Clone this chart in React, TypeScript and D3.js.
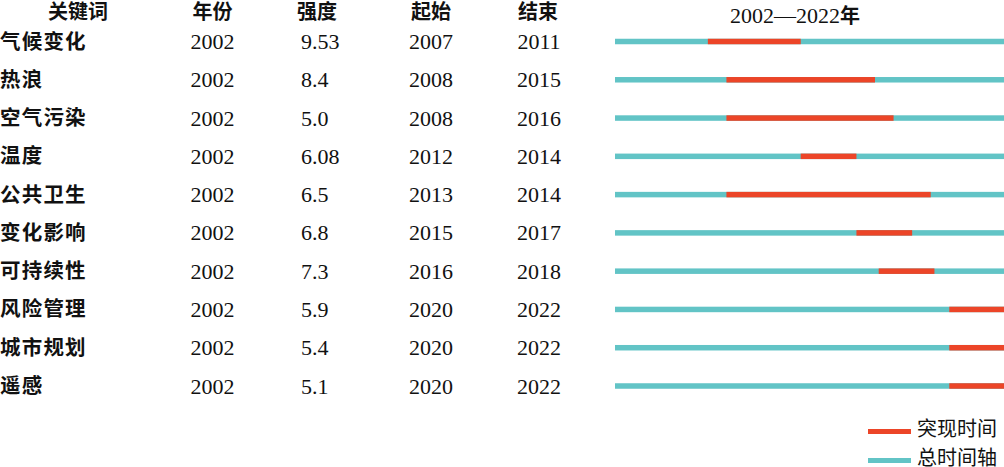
import React from 'react';
import * as d3 from 'd3';

const keywords = ['气候变化', '热浪', '空气污染', '温度', '公共卫生', '变化影响', '可持续性', '风险管理', '城市规划', '遥感'];
const yearLabels = ['2002', '2002', '2002', '2002', '2002', '2002', '2002', '2002', '2002', '2002'];
const strengths = ['9.53', '8.4', '5.0', '6.08', '6.5', '6.8', '7.3', '5.9', '5.4', '5.1'];
const beginLabels = ['2007', '2008', '2008', '2012', '2013', '2015', '2016', '2020', '2020', '2020'];
const endLabels = ['2011', '2015', '2016', '2014', '2014', '2017', '2018', '2022', '2022', '2022'];
// burst spans as drawn on the timeline (inclusive years)
const burstFrom = [2007, 2008, 2008, 2012, 2008, 2015, 2016.2, 2020, 2020, 2020];
const burstTo = [2011, 2015, 2016, 2014, 2018, 2017, 2018.2, 2022, 2022, 2022];
const timeDomain = [2002, 2022];
const headers = ['关键词', '年份', '强度', '起始', '结束'];
const legendLabels = ['突现时间', '总时间轴'];

const RED = '#ec4528';
const TEAL = '#62c4c6';
const CJK = '"Noto Sans CJK SC", "Noto Sans", sans-serif';
const SERIF = '"Liberation Serif", "Times New Roman", serif';

export default function App() {
  const W = 1004, H = 467;
  const x = d3.scaleLinear().domain([timeDomain[0], timeDomain[1] + 1]).range([615, 1005]);
  const y = d3.scalePoint<string>().domain(keywords).range([41.5, 386]);
  const barH = 5.5;
  const headerX = [78, 212.5, 317, 431, 538];

  return (
    <svg width={W} height={H} style={{ position: 'absolute', left: 0, top: 0, background: '#fff' }}>
      {headers.map((h, i) => (
        <text key={h} x={headerX[i]} y={18.5} textAnchor="middle" fontFamily={CJK} fontWeight={700} fontSize={20} fill="#111">{h}</text>
      ))}
      <text x={795} y={22.5} textAnchor="middle" fontFamily={SERIF} fontSize={22} fill="#111">
        {timeDomain[0]}—{timeDomain[1]}<tspan fontFamily={CJK} fontWeight={700} fontSize={20}>年</tspan>
      </text>
      {keywords.map((k, i) => {
        const cy = y(k) as number;
        const base = cy + 7.5;
        return (
          <g key={k}>
            <text x={0} y={base - 0.5} fontFamily={CJK} fontWeight={700} fontSize={20.5} letterSpacing={1.2} fill="#111">{k}</text>
            <text x={212.5} y={base} textAnchor="middle" fontFamily={SERIF} fontSize={22} fill="#111">{yearLabels[i]}</text>
            <text x={301} y={base} fontFamily={SERIF} fontSize={22} fill="#111">{strengths[i]}</text>
            <text x={431} y={base} textAnchor="middle" fontFamily={SERIF} fontSize={22} fill="#111">{beginLabels[i]}</text>
            <text x={539} y={base} textAnchor="middle" fontFamily={SERIF} fontSize={22} fill="#111">{endLabels[i]}</text>
            <rect x={x(timeDomain[0])} y={cy - barH / 2} width={x(timeDomain[1] + 1) - x(timeDomain[0])} height={barH} fill={TEAL} />
            <rect x={x(burstFrom[i])} y={cy - barH / 2} width={x(burstTo[i] + 1) - x(burstFrom[i])} height={barH} fill={RED} />
          </g>
        );
      })}
      <rect x={868} y={429} width={43} height={5} fill={RED} />
      <text x={917} y={435.5} fontFamily={CJK} fontSize={20} fill="#111">{legendLabels[0]}</text>
      <rect x={868} y={458} width={43} height={5} fill={TEAL} />
      <text x={917} y={464.5} fontFamily={CJK} fontSize={20} fill="#111">{legendLabels[1]}</text>
    </svg>
  );
}
